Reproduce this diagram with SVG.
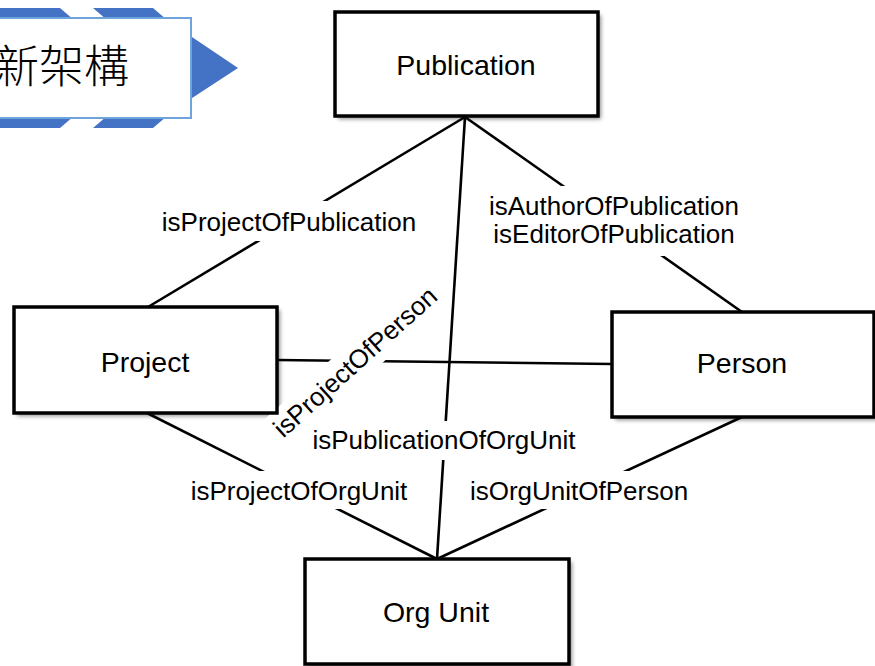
<svg xmlns="http://www.w3.org/2000/svg" width="875" height="666" viewBox="0 0 875 666">
<defs>
<style>
.box{fill:#fff;stroke:#000;stroke-width:3.5}
.shadow{fill:#000;opacity:0.45;filter:url(#blur)}
.node{font-family:"Liberation Sans",Arial,sans-serif;font-size:28.5px;fill:#000;text-anchor:middle}
.lbl{font-family:"Liberation Sans",Arial,sans-serif;font-size:26px;fill:#000;text-anchor:middle}
.line{stroke:#000;stroke-width:2.6;fill:none}
.bg{fill:#fff}
.chev{fill:#4472C4}
</style>
<filter id="blur" x="-10%" y="-10%" width="120%" height="130%"><feGaussianBlur stdDeviation="2"/></filter>
</defs>
<rect width="875" height="666" fill="#fff"/>
<g id="banner">
<polygon class="chev" points="-70,8 60,8 130,68 60,128 -70,128 0,68"/>
<polygon class="chev" points="93,8 153,8 223,68 153,128 93,128 163,68"/>
<polygon class="chev" points="186,33 238,68 186,102"/>
<rect x="-10" y="18" width="201" height="100" fill="#fff" stroke="#6FA3DC" stroke-width="2"/>
<text x="-6" y="83" font-family="'Noto Sans CJK TC','Noto Sans CJK SC',sans-serif" font-size="45" font-weight="300" fill="#000">新架構</text>
</g>
<g id="shadows">
<rect class="shadow" x="338" y="15" width="263" height="104"/>
<rect class="shadow" x="17" y="310" width="263" height="106"/>
<rect class="shadow" x="615" y="315" width="263" height="105"/>
<rect class="shadow" x="308" y="562" width="264" height="108"/>
</g>
<g id="connectors">
<line class="line" x1="465" y1="117" x2="148" y2="307"/>
<line class="line" x1="465" y1="117" x2="742" y2="312"/>
<line class="line" x1="465" y1="117" x2="437" y2="559"/>
<line class="line" x1="277" y1="360" x2="612" y2="364"/>
<line class="line" x1="147" y1="413" x2="437" y2="559"/>
<line class="line" x1="742" y1="417" x2="437" y2="559"/>
<rect class="bg" x="160" y="201" width="260" height="40"/>
<text class="lbl" x="289" y="231">isProjectOfPublication</text>
<rect class="bg" x="486" y="186" width="258" height="70"/>
<text class="lbl" x="614" y="215">isAuthorOfPublication</text>
<text class="lbl" x="614" y="243">isEditorOfPublication</text>
<rect class="bg" x="308" y="421" width="272" height="39"/>
<text class="lbl" x="444" y="449">isPublicationOfOrgUnit</text>
<rect class="bg" x="186" y="471" width="226" height="38"/>
<text class="lbl" x="299" y="500">isProjectOfOrgUnit</text>
<rect class="bg" x="466" y="471" width="226" height="38"/>
<text class="lbl" x="579" y="500">isOrgUnitOfPerson</text>
<g transform="translate(355,362) rotate(-42)">
<rect class="bg" x="-110" y="-18" width="220" height="37"/>
<text class="lbl" x="0" y="9">isProjectOfPerson</text>
</g>
</g>
<g id="node-publication">
<rect class="box" x="335" y="12" width="263" height="104"/>
<text class="node" x="466" y="75">Publication</text>
</g>
<g id="node-project">
<rect class="box" x="14" y="307" width="263" height="106"/>
<text class="node" x="145" y="372">Project</text>
</g>
<g id="node-person">
<rect class="box" x="612" y="312" width="262" height="105"/>
<text class="node" x="742" y="373">Person</text>
</g>
<g id="node-orgunit">
<rect class="box" x="305" y="559" width="264" height="105"/>
<text class="node" x="436" y="622">Org Unit</text>
</g>
</svg>
